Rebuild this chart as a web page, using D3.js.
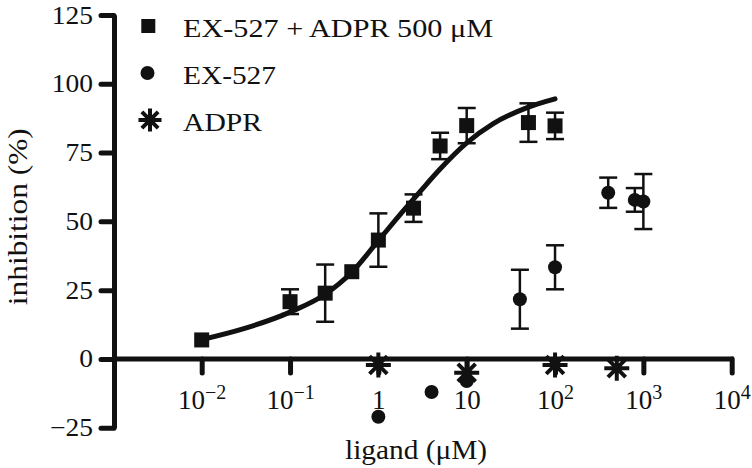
<!DOCTYPE html>
<html>
<head>
<meta charset="utf-8">
<script src="https://cdn.jsdelivr.net/npm/d3@7"></script>
<style>
  html, body { margin: 0; padding: 0; background: #fff; }
  svg { display: block; }
  text { font-family: "Liberation Serif", "Times New Roman", serif; fill: #111; }
</style>
</head>
<body>
<svg id="chart" width="752" height="468"></svg>
<script>
// ---- data ----
const seriesNames = ["EX-527 + ADPR 500 \u03bcM", "EX-527", "ADPR"];

// EX-527 + ADPR 500 µM (squares)
const sqX   = [0.01, 0.1, 0.25, 0.5, 1, 2.5, 5, 10, 50, 100];
const sqY   = [6.9, 20.8, 23.9, 31.7, 43.2, 54.8, 77.4, 84.8, 85.9, 84.7];
const sqErr = [0, 4.5, 10.4, 0, 9.7, 5, 4.8, 6.4, 7, 4.8];

// EX-527 (circles)
const ciX   = [1, 4, 10, 40, 100, 400, 800, 1000];
const ciY   = [-21, -12, -8, 21.7, 33.3, 60.4, 57.8, 57.2];
const ciErr = [0, 0, 0, 10.7, 8, 5.5, 4.3, 10];

// ADPR (asterisks)
const adX = [1, 10, 100, 500];
const adY = [-2.2, -5, -2.2, -3.4];

// fitted curve for EX-527 + ADPR
const fitX = [0.01, 0.03, 0.1, 0.25, 0.5, 1, 2, 3, 5, 10, 20, 50, 100];
const fitY = [7, 11, 17, 23.5, 31.5, 43, 54.5, 61, 69, 78.5, 85.5, 91.5, 94.5];

// tick values
const yTicks = [-25, 0, 25, 50, 75, 100, 125];
const xTickExp = [-2, -1, 0, 1, 2, 3, 4];

// ---- layout ----
const svg = d3.select("#chart");
const ink = "#111";
const axisX0 = 114;   // y-axis position

const x = d3.scaleLog().domain([1e-2, 1e4]).range([201.7, 731.7]);
const y = d3.scaleLinear().domain([-25, 125]).range([427.7, 15]);

function stretch(sel, f) {
  sel.each(function() {
    const L = this.getComputedTextLength();
    d3.select(this).attr("textLength", L * f).attr("lengthAdjust", "spacingAndGlyphs");
  });
}

// ---- axes ----
const yAxis = d3.axisLeft(y).tickValues(yTicks).tickSize(13).tickSizeOuter(0).tickPadding(8)
  .tickFormat(d => d < 0 ? "\u2212" + Math.abs(d) : String(d));
const gy = svg.append("g").attr("transform", `translate(${axisX0},0)`).call(yAxis);
gy.select(".domain").attr("stroke", ink).attr("stroke-width", 5);
gy.selectAll(".tick line").attr("stroke", ink).attr("stroke-width", 5).attr("stroke-linecap", "round");
gy.selectAll(".tick text").attr("font-size", 25).attr("fill", ink)
  .style("font-family", '"Liberation Serif", "Times New Roman", serif');
stretch(gy.selectAll(".tick text"), 1.1);

const xAxis = d3.axisBottom(x).tickValues(xTickExp.map(e => Math.pow(10, e)))
  .tickSize(14).tickSizeOuter(0).tickFormat("");
const gx = svg.append("g").attr("transform", `translate(0,${y(0)})`).call(xAxis);
gx.select(".domain").remove();
gx.append("line").attr("x1", axisX0).attr("x2", x(1e4) + 2).attr("y1", 0).attr("y2", 0)
  .attr("stroke", ink).attr("stroke-width", 5);
gx.selectAll(".tick line").attr("stroke", ink).attr("stroke-width", 5).attr("stroke-linecap", "round");
gx.selectAll(".tick").each(function(d, i) {
  const e = xTickExp[i];
  const t = d3.select(this).append("text")
    .attr("y", 50).attr("text-anchor", "middle").attr("fill", ink)
    .attr("font-size", 27);
  if (e === 0) { t.text("1"); }
  else if (e === 1) { t.text("10"); }
  else {
    t.append("tspan").text("10");
    t.append("tspan").attr("font-size", 20).attr("dy", -10)
      .text(e < 0 ? "\u2212" + Math.abs(e) : String(e));
  }
});

// axis titles
svg.append("text").attr("transform", "translate(27,216.7) rotate(-90)")
  .attr("text-anchor", "middle").attr("font-size", 27)
  .attr("textLength", 177).attr("lengthAdjust", "spacingAndGlyphs")
  .text("inhibition (%)");
svg.append("text").attr("x", 416).attr("y", 459)
  .attr("text-anchor", "middle").attr("font-size", 28)
  .attr("textLength", 142).attr("lengthAdjust", "spacingAndGlyphs")
  .text("ligand (\u03bcM)");

// ---- marks ----
const plot = svg.append("g");

function errorBars(xs, ys, es) {
  xs.forEach((xv, i) => {
    if (!es[i]) return;
    const cx = x(xv), y1 = y(ys[i] - es[i]), y2 = y(ys[i] + es[i]);
    plot.append("line").attr("x1", cx).attr("x2", cx).attr("y1", y1).attr("y2", y2)
      .attr("stroke", ink).attr("stroke-width", 2.5);
    [y1, y2].forEach(yy => plot.append("line").attr("x1", cx - 9).attr("x2", cx + 9)
      .attr("y1", yy).attr("y2", yy).attr("stroke", ink).attr("stroke-width", 2.5));
  });
}
errorBars(sqX, sqY, sqErr);
errorBars(ciX, ciY, ciErr);

// fitted curve
const line = d3.line().x(d => x(d[0])).y(d => y(d[1])).curve(d3.curveMonotoneX);
plot.append("path").datum(fitX.map((v, i) => [v, fitY[i]]))
  .attr("d", line).attr("fill", "none").attr("stroke", ink).attr("stroke-width", 5)
  .attr("stroke-linecap", "round");

function asteriskPath(r) {
  const k = r * 0.7071;
  return `M${-r},0H${r}M0,${-r}V${r}M${-k},${-k}L${k},${k}M${-k},${k}L${k},${-k}`;
}
const sqSize = 15, ciR = 7, astR = 12.5;

plot.selectAll("rect.sq").data(sqX).join("rect").attr("class", "sq")
  .attr("x", (d) => x(d) - sqSize / 2).attr("y", (d, i) => y(sqY[i]) - sqSize / 2)
  .attr("width", sqSize).attr("height", sqSize).attr("fill", ink);

plot.selectAll("circle.ci").data(ciX).join("circle").attr("class", "ci")
  .attr("cx", d => x(d)).attr("cy", (d, i) => y(ciY[i])).attr("r", ciR).attr("fill", ink);

plot.selectAll("path.ad").data(adX).join("path").attr("class", "ad")
  .attr("transform", (d, i) => `translate(${x(d)},${y(adY[i])})`)
  .attr("d", asteriskPath(astR)).attr("stroke", ink).attr("stroke-width", 4).attr("fill", "none");

// ---- legend ----
const legend = svg.append("g");
const legY = [26, 73, 120];
const legLen = [310, 93, 79];
legend.append("rect").attr("x", 148.3 - 7).attr("y", legY[0] - 7).attr("width", 14).attr("height", 14).attr("fill", ink);
legend.append("circle").attr("cx", 147.5).attr("cy", legY[1]).attr("r", 7).attr("fill", ink);
legend.append("path").attr("transform", `translate(150,${legY[2]})`).attr("d", asteriskPath(11.5))
  .attr("stroke", ink).attr("stroke-width", 4).attr("fill", "none");
seriesNames.forEach((name, i) => {
  legend.append("text").attr("x", 183).attr("y", legY[i] + 10.5)
    .attr("font-size", 26).attr("textLength", legLen[i]).attr("lengthAdjust", "spacingAndGlyphs")
    .text(name);
});
</script>
</body>
</html>
